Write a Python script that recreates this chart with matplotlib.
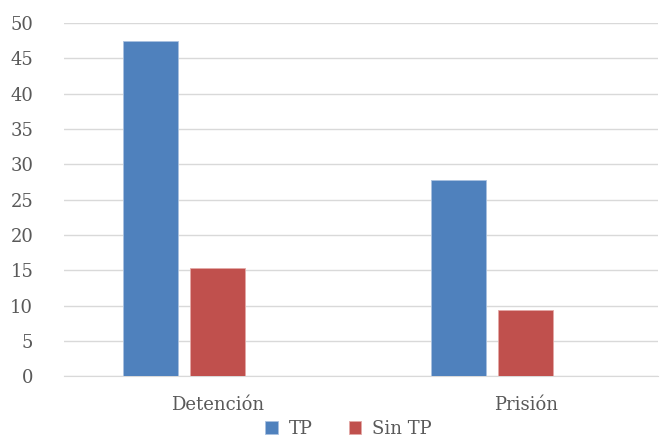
import matplotlib.pyplot as plt
import numpy as np

categories = ['Detención', 'Prisión']
tp = [47.5, 27.8]
sin_tp = [15.3, 9.3]

plt.rcParams['font.family'] = ['DejaVu Serif']
text_color = '#595959'

fig = plt.figure(figsize=(6.64, 4.41), dpi=100)
ax = fig.add_axes([0.096, 0.147, 0.895, 0.801])

x = np.arange(len(categories))
w = 0.178
ax.bar(x - 0.219, tp, w, color='#4f81bd', edgecolor='#a9c1e0', linewidth=0.6, label='TP', zorder=3)
ax.bar(x, sin_tp, w, color='#c0504d', edgecolor='#e3a9a7', linewidth=0.6, label='Sin TP', zorder=3)

ax.set_xlim(-0.5, 1.43)
ax.set_ylim(0, 50)
ax.set_yticks(np.arange(0, 51, 5))
ax.set_xticks(x)
ax.set_xticklabels(categories)
ax.grid(axis='y', color='#d9d9d9', linewidth=1, zorder=0)
for s in ['top', 'right', 'left']:
    ax.spines[s].set_visible(False)
ax.spines['bottom'].set_color('#d9d9d9')
ax.tick_params(axis='y', length=0, pad=22, labelsize=13, labelcolor=text_color)
ax.tick_params(axis='x', length=0, pad=14, labelsize=13, labelcolor=text_color)

fig.legend(loc='lower center', bbox_to_anchor=(0.525, -0.03), ncol=2, frameon=False,
           fontsize=13, labelcolor=text_color, handlelength=0.7, handleheight=0.7,
           handletextpad=0.6, columnspacing=2.0)

fig.savefig('out.png', dpi=100)
